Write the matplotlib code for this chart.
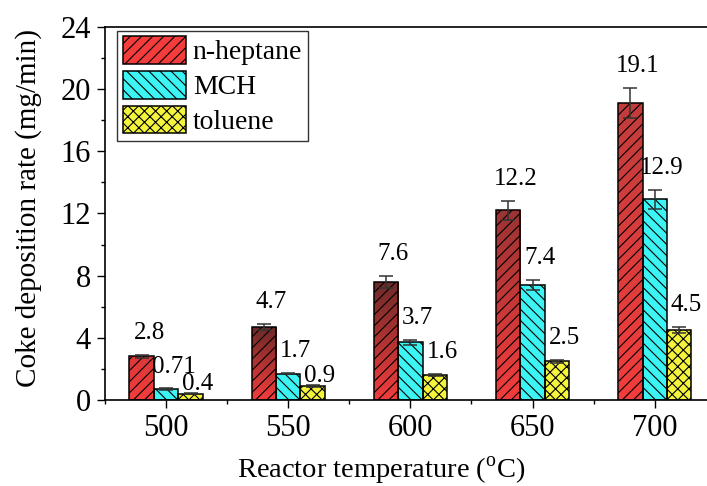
import numpy as np
import matplotlib
matplotlib.use("Agg")
import matplotlib.pyplot as plt
from matplotlib.patches import Patch
from matplotlib.colors import to_rgba
from matplotlib.ticker import MultipleLocator

plt.rcParams['font.family'] = ['Liberation Serif', 'DejaVu Serif']
plt.rcParams['mathtext.fontset'] = 'custom'
plt.rcParams['mathtext.rm'] = 'Liberation Serif'
plt.rcParams['hatch.linewidth'] = 0.8

# ---------------- data ----------------
temperatures = [500, 550, 600, 650, 700]
series_names = ['n-heptane', 'MCH', 'toluene']
heptane = [2.8, 4.7, 7.6, 12.2, 19.1]
heptane_err = [0.1, 0.2, 0.4, 0.6, 0.95]
mch = [0.71, 1.7, 3.7, 7.4, 12.9]
mch_err = [0.04, 0.06, 0.15, 0.35, 0.6]
toluene = [0.4, 0.9, 1.6, 2.5, 4.5]
toluene_err = [0.03, 0.04, 0.05, 0.1, 0.2]
heptane_labels = ['2.8', '4.7', '7.6', '12.2', '19.1']
mch_labels = ['0.71', '1.7', '3.7', '7.4', '12.9']
toluene_labels = ['0.4', '0.9', '1.6', '2.5', '4.5']

# ---------------- style ----------------
colors = ['#f43c3c', '#3cf4f4', '#f4f43c']
hatches = ['///', '\\\\\\', 'xxx']
red_top_colors = ['#dc3838', '#6a2a28', '#6c2b29', '#9a3434', '#c23c3c']
lift_pts = [[11.5] * 5, [11.0, 11.5, 11.5, 11.5, 11.5], [2.6, 2.6, 11.5, 11.5, 11.5]]
bar_w = 10
offsets = [-10, 0, 10]

fig = plt.figure(figsize=(7.07, 4.86), dpi=100)
ax = fig.add_axes([0.1485, 0.177, 0.864, 0.7675])

x = np.array(temperatures, dtype=float)
vals = [heptane, mch, toluene]
errs = [heptane_err, mch_err, toluene_err]
labs = [heptane_labels, mch_labels, toluene_labels]

for i in range(3):
    xi = x + offsets[i]
    bars = ax.bar(xi, vals[i], width=bar_w, color=colors[i], edgecolor='none', zorder=1)
    if i == 0:
        for j, b in enumerate(bars):
            x0 = b.get_x(); h = b.get_height()
            c_bot = np.array(to_rgba(colors[0]))
            c_top = np.array(to_rgba(red_top_colors[j]))
            t = np.linspace(0, 1, 200)[:, None]
            grad = (c_bot[None, :] * (1 - t) + c_top[None, :] * t)[:, None, :]
            im = ax.imshow(grad, extent=(x0, x0 + bar_w, 0, h), origin='lower',
                           aspect='auto', zorder=1.5, interpolation='bilinear')
            im.set_clip_path(b)
    ax.bar(xi, vals[i], width=bar_w, facecolor='none', edgecolor='black',
           hatch=hatches[i], linewidth=1.1, zorder=2)
    ax.errorbar(xi, vals[i], yerr=errs[i], fmt='none', ecolor='#333333',
                elinewidth=1.1, capsize=5, capthick=1.1, zorder=3)
    for j in range(5):
        ax.annotate(labs[i][j], xy=(xi[j], vals[i][j] + errs[i][j]),
                    xytext=(5.3, lift_pts[i][j]), textcoords='offset points',
                    ha='center', va='baseline', fontsize=18, zorder=4)

ax.set_xlim(475, 725)
ax.set_ylim(0, 24)
ax.set_xticks(temperatures)
ax.set_yticks(np.arange(0, 25, 4))
ax.xaxis.set_minor_locator(MultipleLocator(25))
ax.yaxis.set_minor_locator(MultipleLocator(2))
ax.tick_params(which='major', direction='out', length=6, width=1.0, labelsize=22, pad=4)
ax.tick_params(which='minor', direction='out', length=3, width=1.0)
ax.tick_params(axis='x', which='both', top=False)
ax.tick_params(axis='y', which='both', right=False)
for s in ax.spines.values():
    s.set_linewidth(1.2)

ax.set_xlabel('Reactor temperature ($^{\\mathrm{o}}$C)', fontsize=20.5)
ax.set_ylabel('Coke deposition rate (mg/min)', fontsize=21)
ax.xaxis.set_label_coords(0.453, -0.146)
ax.yaxis.set_label_coords(-0.103, 0.516)

handles = [Patch(facecolor=colors[k], edgecolor='black', hatch=hatches[k], linewidth=1.1)
           for k in range(3)]
leg = ax.legend(handles, series_names, loc='upper left', bbox_to_anchor=(0.02, 0.99),
                fontsize=20, handlelength=2.27, handleheight=1.15, labelspacing=0.2,
                handletextpad=0.25, borderpad=0.2, borderaxespad=0, frameon=True,
                fancybox=False)
leg.get_frame().set_edgecolor('black')
leg.get_frame().set_linewidth(1.0)

fig.savefig('out.png', dpi=100)
